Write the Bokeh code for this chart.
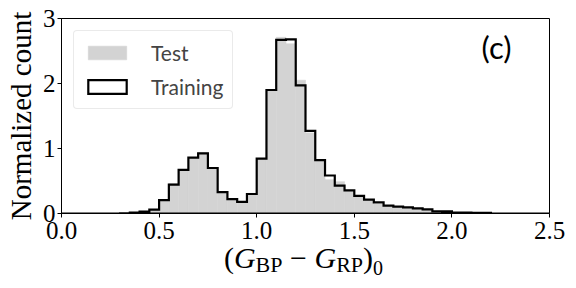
import numpy as np
from bokeh.plotting import figure
from bokeh.layouts import column
from bokeh.models import Range1d, FixedTicker, Label, Legend, LegendItem, ColumnDataSource, Div
from bokeh.embed import file_html
from bokeh.resources import INLINE

# ---- data ----
bin_edges = np.linspace(0.0, 2.5, 51)  # 50 bins of width 0.05
training = [0, 0, 0, 0, 0, 0, 0.003, 0.015, 0.03, 0.06,
            0.205, 0.445, 0.67, 0.86, 0.925, 0.70, 0.33, 0.22, 0.18, 0.30,
            0.845, 1.90, 2.67, 2.68, 1.97, 1.27, 0.82, 0.585, 0.43, 0.355,
            0.27, 0.215, 0.17, 0.12, 0.105, 0.095, 0.078, 0.064, 0.035, 0.033,
            0.012, 0.012, 0.01, 0.01, 0, 0, 0, 0, 0, 0]
test = [0, 0, 0, 0, 0, 0, 0.002, 0.015, 0.03, 0.06,
        0.205, 0.46, 0.67, 0.86, 0.94, 0.70, 0.33, 0.22, 0.18, 0.31,
        0.845, 1.90, 2.71, 2.61, 2.05, 1.24, 0.83, 0.52, 0.49, 0.355,
        0.27, 0.215, 0.145, 0.12, 0.105, 0.095, 0.078, 0.064, 0.035, 0.033,
        0.012, 0.012, 0.01, 0.01, 0, 0, 0, 0, 0, 0]
x_ticks = [0.0, 0.5, 1.0, 1.5, 2.0, 2.5]
x_tick_labels = ["0.0", "0.5", "1.0", "1.5", "2.0", "2.5"]
y_ticks = [0, 1, 2, 3]
y_tick_labels = ["0", "1", "2", "3"]
series_names = ["Test", "Training"]
y_title = "Normalized count"
x_title_parts = ["G", "BP", "G", "RP", "0"]   # (G_BP − G_RP)_0
panel_tag = "(c)"

SERIF = "Liberation Serif"
SANS = "Lato"

p = figure(width=576, height=250, output_backend="svg", toolbar_location=None,
           x_range=Range1d(0, 2.5), y_range=Range1d(0, 3),
           min_border_left=61, min_border_right=27, min_border_top=18, min_border_bottom=37)
p.grid.visible = False
p.outline_line_color = "black"
p.outline_line_width = 1
p.background_fill_color = "white"
p.border_fill_color = "white"

# Test: filled histogram
src = ColumnDataSource(dict(left=bin_edges[:-1], right=bin_edges[1:], top=test,
                            bottom=[0] * len(test)))
r_test = p.quad(left="left", right="right", top="top", bottom="bottom", source=src,
                fill_color="#d3d3d3", line_color="#d3d3d3", line_width=0.6)

# Training: step outline
xs, ys = [bin_edges[0]], [0]
for i, v in enumerate(training):
    xs += [bin_edges[i], bin_edges[i + 1]]
    ys += [v, v]
xs.append(bin_edges[-1]); ys.append(0)
r_train = p.patch(xs, ys, fill_alpha=0, line_color="black", line_width=2.2, line_join="miter")

legend = Legend(items=[LegendItem(label=series_names[0], renderers=[r_test]),
                       LegendItem(label=series_names[1], renderers=[r_train])],
                location="top_left", margin=12, padding=9, spacing=9,
                glyph_width=48, glyph_height=17, label_standoff=20,
                label_text_font=SANS, label_text_font_size="21px",
                border_line_color="#d6d6d6", border_line_width=1, border_radius=4,
                background_fill_alpha=0.8)
p.add_layout(legend)

for ax, ticks, labels in ((p.xaxis, x_ticks, x_tick_labels), (p.yaxis, y_ticks, y_tick_labels)):
    ax.ticker = FixedTicker(ticks=ticks)
    ax.major_label_overrides = {t: l for t, l in zip(ticks, labels)}
    ax.minor_tick_line_color = None
    ax.major_tick_in = 0
    ax.major_tick_out = 4
    ax.axis_line_color = "black"
    ax.major_tick_line_color = "black"
    ax.major_label_text_font = SERIF
    ax.major_label_text_font_size = "25px"
    ax.major_label_text_color = "black"
    ax.major_label_standoff = 2
p.xaxis.major_label_standoff = 4

p.yaxis.axis_label = y_title
p.yaxis.axis_label_text_font = SERIF
p.yaxis.axis_label_text_font_size = "29px"
p.yaxis.axis_label_text_font_style = "normal"
p.yaxis.axis_label_text_color = "black"
p.yaxis.axis_label_standoff = 3

# panel tag
p.add_layout(Label(x=435, y=167, x_units="screen", y_units="screen", text=panel_tag,
                   text_font=SANS, text_font_size="31px", text_align="center",
                   text_baseline="middle", text_color="black"))

# x axis title as real HTML text: (G_BP − G_RP)_0
g1, s1, g2, s2, s0 = x_title_parts
sub = 'font-size:22px; position:relative; top:4px;'
sub0 = 'font-size:20px; position:relative; top:7px;'
xlabel_html = (
    '<div style="width:576px; padding-left:31px; box-sizing:border-box; text-align:center; '
    "font-family:'Liberation Serif'; font-size:30px; line-height:30px; margin-top:-7px; "
    'color:black; white-space:nowrap;">'
    f'(<i>{g1}</i><span style="{sub}">{s1}</span> \u2212 '
    f'<i>{g2}</i><span style="{sub}">{s2}</span>)<span style="{sub0}">{s0}</span></div>'
)
q = Div(text=xlabel_html, width=576, height=38, margin=(0, 0, 0, 0))

layout = column(p, q, spacing=0)
open("out.html", "w").write(file_html(layout, INLINE))
